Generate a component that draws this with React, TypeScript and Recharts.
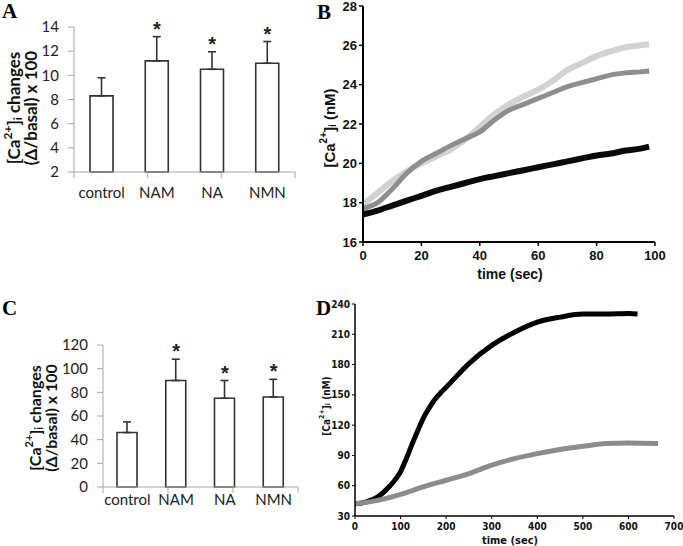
import React from 'react';
import { ComposedChart, Bar, XAxis, YAxis, ErrorBar, Scatter, LineChart, Line } from 'recharts';

// ---------- Panel A / C (bar charts) ----------
const categories = ['control', 'NAM', 'NA', 'NMN'];
const aMeans = [8.3, 11.2, 10.5, 11.0];
const aErrors = [1.5, 2.0, 1.45, 1.8];
const aSignificant = [false, true, true, true];
const aTicks = [2, 4, 6, 8, 10, 12, 14];

const cMeans = [46, 90, 75, 76];
const cErrors = [9, 18, 15, 15];
const cSignificant = [false, true, true, true];
const cTicks = [0, 20, 40, 60, 80, 100, 120];

const boundaryTicks = [0, 1, 2, 3, 4];

// ---------- Panel B (time course, 100 s) ----------
const bTime = [0, 5, 10, 15, 20, 25, 30, 35, 40, 45, 50, 55, 60, 65, 70, 75, 80, 85, 90, 95, 98];
const bBlack = [17.4, 17.6, 17.85, 18.1, 18.35, 18.6, 18.8, 19.0, 19.2, 19.35, 19.5, 19.65, 19.8, 19.95, 20.1, 20.25, 20.4, 20.5, 20.65, 20.75, 20.85];
const bMid = [17.7, 18.0, 18.7, 19.5, 20.1, 20.5, 20.9, 21.25, 21.6, 22.2, 22.7, 23.0, 23.3, 23.6, 23.9, 24.1, 24.3, 24.5, 24.6, 24.65, 24.7];
const bLight = [17.9, 18.5, 19.1, 19.6, 20.0, 20.35, 20.7, 21.2, 21.85, 22.5, 23.0, 23.4, 23.75, 24.2, 24.75, 25.1, 25.45, 25.7, 25.9, 26.0, 26.05];
const bXTicks = [0, 20, 40, 60, 80, 100];
const bYTicks = [16, 18, 20, 22, 24, 26, 28];

// ---------- Panel D (time course, 700 s) ----------
const dBlackTime = [0, 25, 50, 75, 90, 100, 110, 125, 140, 150, 160, 175, 190, 200, 250, 300, 350, 400, 450, 500, 550, 600, 620];
const dBlackValues = [42, 44, 49, 59, 67, 74, 84, 101, 117, 127, 135, 145.5, 153, 157.5, 181, 199, 212, 222, 227, 230, 230, 230.5, 230];
const dGrayTime = [0, 50, 100, 150, 200, 250, 300, 350, 400, 450, 500, 550, 600, 665];
const dGrayValues = [42, 45.5, 51.5, 58.8, 65.4, 72, 80.3, 86.9, 91.8, 95.8, 99, 101.8, 102.4, 101.8];
const dXTicks = [0, 100, 200, 300, 400, 500, 600, 700];
const dYTicks = [30, 60, 90, 120, 150, 180, 210, 240];

const toBarData = (means: number[], errs: number[], sig: boolean[]) =>
  categories.map((name, i) => ({
    name,
    mean: means[i],
    err: [0, errs[i]],
    star: sig[i] ? means[i] + errs[i] : null,
  }));

const toLineData = (t: number[], v: number[]) => t.map((x, i) => ({ t: x, v: v[i] }));

const aData = toBarData(aMeans, aErrors, aSignificant);
const cData = toBarData(cMeans, cErrors, cSignificant);

const AXIS_GRAY = '#a6a6a6';
const BAR_STROKE = '#333';
const LATO = 'Lato, "Open Sans", sans-serif';
const ARIAL = '"Liberation Sans", Arial, sans-serif';
const NARROW = '"Liberation Sans Narrow", "DejaVu Sans Condensed", "Liberation Sans", sans-serif';

const StarShape = (props: any) => {
  const { cx, cy, payload } = props;
  if (!payload || payload.star == null || cx == null || cy == null) return <g />;
  return (
    <text x={cx} y={cy - 1} textAnchor="middle" fontSize={20} fontWeight="bold" fontFamily={ARIAL} fill="#222">
      *
    </text>
  );
};

type BarPanelProps = {
  data: any[];
  ticks: number[];
  domain: [number, number];
  width: number;
  height: number;
  margin: any;
  yAxisWidth: number;
  catHeight: number;
  catMargin: number;
  barSize: number;
};

const BarPanel = ({ data, ticks, domain, width, height, margin, yAxisWidth, catHeight, catMargin, barSize }: BarPanelProps) => (
  <ComposedChart width={width} height={height} data={data} margin={margin}>
    <XAxis
      xAxisId={0}
      type="number"
      domain={[0, 4]}
      ticks={boundaryTicks}
      height={1}
      axisLine={{ stroke: AXIS_GRAY, strokeWidth: 1 }}
      tickLine={{ stroke: AXIS_GRAY, strokeWidth: 1 }}
      tickSize={6}
      tickFormatter={() => ''}
    />
    <XAxis
      xAxisId={1}
      dataKey="name"
      type="category"
      height={catHeight}
      axisLine={false}
      tickLine={false}
      tickSize={0}
      tickMargin={catMargin}
      interval={0}
      tick={{ fontSize: 15, fontFamily: LATO, fill: '#222' }}
    />
    <YAxis
      type="number"
      domain={domain}
      ticks={ticks}
      width={yAxisWidth}
      axisLine={{ stroke: AXIS_GRAY, strokeWidth: 1 }}
      tickLine={{ stroke: AXIS_GRAY, strokeWidth: 1 }}
      tickSize={6}
      tickMargin={9}
      tick={{ fontSize: 15, fontFamily: LATO, fill: '#222' }}
    />
    <Bar xAxisId={1} dataKey="mean" fill="#fff" stroke={BAR_STROKE} strokeWidth={1.6} barSize={barSize} isAnimationActive={false}>
      <ErrorBar dataKey="err" direction="y" width={4} stroke={BAR_STROKE} strokeWidth={1.6} />
    </Bar>
    <Scatter xAxisId={1} dataKey="star" shape={StarShape} isAnimationActive={false} />
  </ComposedChart>
);

const CaLabel = ({ x, y, size, family, suffix }: { x: number; y: number; size: number; family: string; suffix: string }) => {
  const small = Math.round(size * 0.68);
  const up = size * 0.38;
  const down = size * 0.22;
  return (
    <text
      x={x}
      y={y}
      transform={`rotate(-90, ${x}, ${y})`}
      textAnchor="middle"
      dominantBaseline="central"
      fontSize={size}
      fontWeight="bold"
      fontFamily={family}
      fill="#111"
    >
      <tspan>[Ca</tspan>
      <tspan fontSize={small} dy={-up}>2+</tspan>
      <tspan fontSize={size} dy={up}>]</tspan>
      <tspan fontSize={small} dy={down}>i</tspan>
      <tspan fontSize={size} dy={-down}>{suffix}</tspan>
    </text>
  );
};

export default function App() {
  const bLightData = toLineData(bTime, bLight);
  const bMidData = toLineData(bTime, bMid);
  const bBlackData = toLineData(bTime, bBlack);
  const dBlackData = toLineData(dBlackTime, dBlackValues);
  const dGrayData = toLineData(dGrayTime, dGrayValues);

  const boldTick = { fontSize: 13, fontWeight: 'bold', fontFamily: ARIAL, fill: '#111' };
  const dTick = { fontSize: 10, fontWeight: 'bold', fontFamily: NARROW, fill: '#111' };

  return (
    <div style={{ position: 'absolute', left: 0, top: 0, width: 683, height: 546, background: '#fff', overflow: 'hidden' }}>
      {/* Panel A */}
      <div style={{ position: 'absolute', left: 0, top: 0 }}>
        <BarPanel
          data={aData}
          ticks={aTicks}
          domain={[2, 14]}
          width={310}
          height={215}
          margin={{ top: 27, right: 15, left: 0, bottom: 0 }}
          yAxisWidth={74}
          catHeight={42}
          catMargin={14}
          barSize={23}
        />
      </div>

      {/* Panel C */}
      <div style={{ position: 'absolute', left: 0, top: 290 }}>
        <BarPanel
          data={cData}
          ticks={cTicks}
          domain={[0, 120]}
          width={310}
          height={231}
          margin={{ top: 55, right: 12, left: 0, bottom: 0 }}
          yAxisWidth={103}
          catHeight={33}
          catMargin={6}
          barSize={20}
        />
      </div>

      {/* Panel B */}
      <div style={{ position: 'absolute', left: 300, top: -9 }}>
        <LineChart width={383} height={297} margin={{ top: 15, right: 28, left: 0, bottom: 0 }}>
          <XAxis
            type="number"
            dataKey="t"
            domain={[0, 100]}
            ticks={bXTicks}
            allowDataOverflow
            height={46}
            axisLine={{ stroke: '#000', strokeWidth: 2 }}
            tickLine={{ stroke: '#000', strokeWidth: 1.5 }}
            tickSize={4}
            tickMargin={5}
            tick={boldTick}
          />
          <YAxis
            type="number"
            domain={[16, 28]}
            ticks={bYTicks}
            allowDataOverflow
            width={63}
            axisLine={{ stroke: '#000', strokeWidth: 2 }}
            tickLine={{ stroke: '#000', strokeWidth: 1.5 }}
            tickSize={4}
            tickMargin={2}
            tick={boldTick}
          />
          <Line data={bLightData} dataKey="v" type="monotone" stroke="#d2d2d2" strokeWidth={6} dot={false} isAnimationActive={false} />
          <Line data={bMidData} dataKey="v" type="monotone" stroke="#8e8e8e" strokeWidth={5} dot={false} isAnimationActive={false} />
          <Line data={bBlackData} dataKey="v" type="monotone" stroke="#0a0a0a" strokeWidth={6} dot={false} isAnimationActive={false} />
        </LineChart>
      </div>

      {/* Panel D */}
      <div style={{ position: 'absolute', left: 300, top: 290 }}>
        <LineChart width={383} height={256} margin={{ top: 14, right: 9, left: 0, bottom: 0 }}>
          <XAxis
            type="number"
            dataKey="t"
            domain={[0, 700]}
            ticks={dXTicks}
            allowDataOverflow
            height={30}
            axisLine={{ stroke: '#000', strokeWidth: 1.5 }}
            tickLine={{ stroke: '#000', strokeWidth: 1 }}
            tickSize={3}
            tickMargin={4}
            tick={dTick}
          />
          <YAxis
            type="number"
            domain={[30, 240]}
            ticks={dYTicks}
            allowDataOverflow
            width={55}
            axisLine={{ stroke: '#000', strokeWidth: 1.5 }}
            tickLine={{ stroke: '#000', strokeWidth: 1 }}
            tickSize={3}
            tickMargin={2}
            tick={dTick}
          />
          <Line data={dBlackData} dataKey="v" type="monotone" stroke="#000" strokeWidth={5} dot={false} isAnimationActive={false} />
          <Line data={dGrayData} dataKey="v" type="monotone" stroke="#8c8c8c" strokeWidth={5} dot={false} isAnimationActive={false} />
        </LineChart>
      </div>

      {/* Text annotations */}
      <svg width={683} height={546} style={{ position: 'absolute', left: 0, top: 0, pointerEvents: 'none' }}>
        <g fontFamily='"Liberation Serif", "Times New Roman", serif' fontWeight="bold" fontSize={21} fill="#000">
          <text x={2} y={18}>A</text>
          <text x={317} y={19}>B</text>
          <text x={2} y={315}>C</text>
          <text x={316} y={315}>D</text>
        </g>

        <CaLabel x={13} y={108} size={17} family={LATO} suffix=" changes" />
        <text x={30} y={108} transform="rotate(-90, 30, 108)" textAnchor="middle" dominantBaseline="central" fontSize={17} fontWeight="bold" fontFamily={LATO} fill="#111">
          (Δ/basal) x 100
        </text>

        <CaLabel x={34} y={418} size={16} family={LATO} suffix=" changes" />
        <text x={50} y={418} transform="rotate(-90, 50, 418)" textAnchor="middle" dominantBaseline="central" fontSize={16} fontWeight="bold" fontFamily={LATO} fill="#111">
          (Δ/basal) x 100
        </text>

        <CaLabel x={329} y={128} size={15} family={ARIAL} suffix=" (nM)" />
        <text x={510} y={274} textAnchor="middle" dominantBaseline="central" fontSize={14} fontWeight="bold" fontFamily={ARIAL} fill="#111">
          time (sec)
        </text>

        <CaLabel x={326} y={406} size={10} family={NARROW} suffix=" (nM)" />
        <text x={510} y={540} textAnchor="middle" dominantBaseline="central" fontSize={11} fontWeight="bold" fontFamily={NARROW} fill="#111">
          time (sec)
        </text>
      </svg>
    </div>
  );
}
